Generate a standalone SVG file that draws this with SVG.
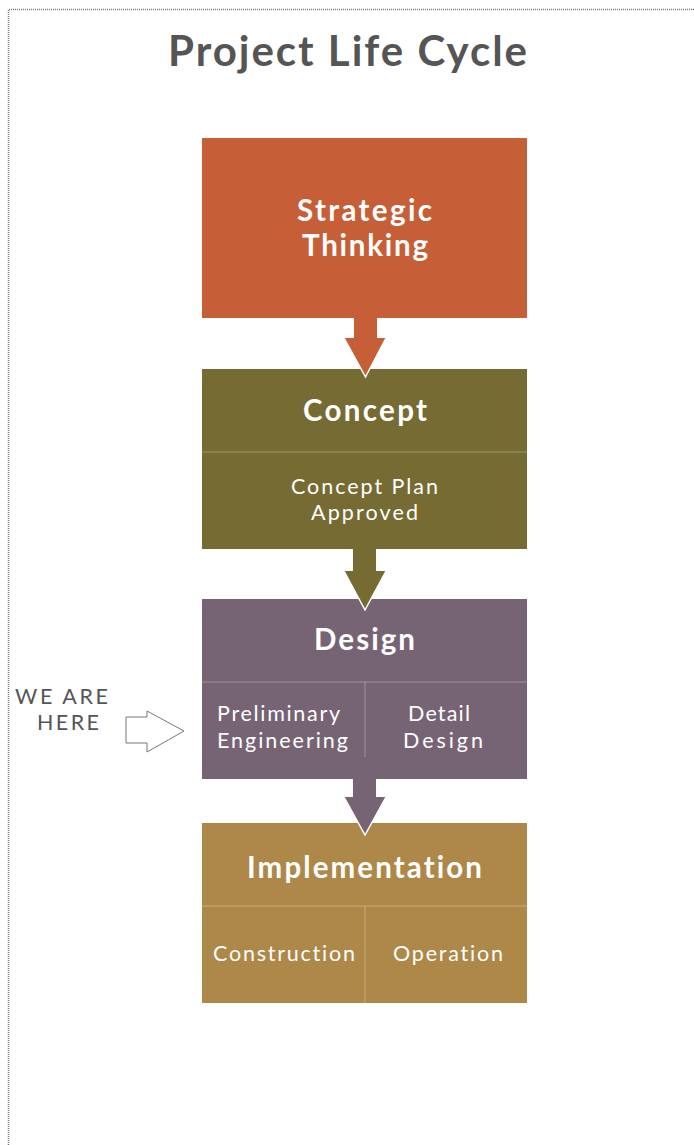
<svg xmlns="http://www.w3.org/2000/svg" width="694" height="1145" viewBox="0 0 694 1145">
<style>
text{font-variant-ligatures:none;font-feature-settings:"liga" 0}
.t{font-family:Lato,"Open Sans","Liberation Sans",sans-serif;text-anchor:middle;fill:#fff}
.h{font-size:29.5px;font-weight:700}
.s{font-size:21.5px;font-weight:400}
.div{stroke:#fff;stroke-opacity:0.3;stroke-width:1}
.edge{fill:none;stroke:#fff;stroke-width:1.5}
.we{font-family:Lato,"Open Sans","Liberation Sans",sans-serif;font-size:21.5px;fill:#555;text-anchor:middle}
</style>
<rect width="694" height="1145" fill="#fff"/>
<path d="M8.5 1145 V9.5 H694" fill="none" stroke="#777" stroke-width="1.5" stroke-dasharray="1 1"/>
<text x="347.5" y="66" font-family="Lato, Open Sans, Liberation Sans, sans-serif" font-size="42" font-weight="700" fill="#555" text-anchor="middle" textLength="359" lengthAdjust="spacing">Project Life Cycle</text>

<g id="strategic">
<rect x="202" y="138" width="325" height="180" fill="#C65E37"/>
<text class="t h" x="364.5" y="221" textLength="135" lengthAdjust="spacing">Strategic</text>
<text class="t h" x="365" y="256" textLength="126" lengthAdjust="spacing">Thinking</text>
</g>

<g id="concept">
<rect x="202" y="369" width="325" height="180" fill="#756B33"/>
<line class="div" x1="202" y1="452" x2="527" y2="452"/>
<text class="t h" x="365" y="421" textLength="124" lengthAdjust="spacing">Concept</text>
<text class="t s" x="364.5" y="494" textLength="147" lengthAdjust="spacing">Concept Plan</text>
<text class="t s" x="364.5" y="520" textLength="107" lengthAdjust="spacing">Approved</text>
</g>

<g id="design">
<rect x="202" y="599" width="325" height="180" fill="#766474"/>
<line class="div" x1="202" y1="682" x2="527" y2="682"/>
<line class="div" x1="365" y1="682" x2="365" y2="757"/>
<text class="t h" x="364.5" y="650" textLength="101" lengthAdjust="spacing">Design</text>
<text class="t s" x="278.5" y="721" textLength="123" lengthAdjust="spacing">Preliminary</text>
<text class="t s" x="282.5" y="748" textLength="131" lengthAdjust="spacing">Engineering</text>
<text class="t s" x="439" y="721" textLength="62" lengthAdjust="spacing">Detail</text>
<text class="t s" x="443" y="748" textLength="80" lengthAdjust="spacing">Design</text>
</g>

<g id="implementation">
<rect x="202" y="823" width="325" height="180" fill="#AD8849"/>
<line class="div" x1="202" y1="906" x2="527" y2="906"/>
<line class="div" x1="365" y1="906" x2="365" y2="1003"/>
<text class="t h" x="364.5" y="878" textLength="235" lengthAdjust="spacing">Implementation</text>
<text class="t s" x="284" y="961" textLength="142" lengthAdjust="spacing">Construction</text>
<text class="t s" x="448" y="961" textLength="110" lengthAdjust="spacing">Operation</text>
</g>

<g id="connectors">
<path d="M354 318 H377 V338 H386 L365.5 377 L344 338 H354 Z" fill="#C65E37"/>
<polyline class="edge" points="386,338 365.5,377 344,338"/>
<path d="M353 549 H376 V571 H386 L365 610 L344 571 H353 Z" fill="#756B33"/>
<polyline class="edge" points="386,571 365,610 344,571"/>
<path d="M353 779 H376 V797 H386 L365 835 L344 797 H353 Z" fill="#766474"/>
<polyline class="edge" points="386,797 365,835 344,797"/>
</g>

<g id="we-are-here">
<text class="we" x="61.5" y="704" textLength="93" lengthAdjust="spacing">WE ARE</text>
<text class="we" x="68" y="730" textLength="62" lengthAdjust="spacing">HERE</text>
<path d="M126 717 H147 V711 L184 731 L147 752 V743 H126 Z" fill="#fff" stroke="#777" stroke-width="1"/>
</g>
</svg>
